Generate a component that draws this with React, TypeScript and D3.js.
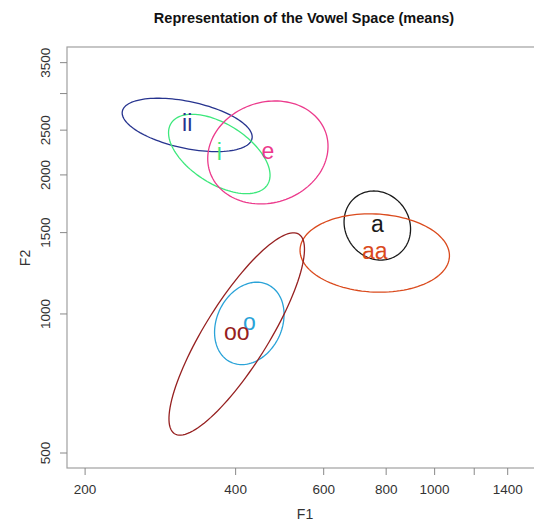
import React from 'react';
import * as d3 from 'd3';

// vowel means (Hz) and spread of the log10 formants
const vowels = ['ii', 'i', 'e', 'a', 'aa', 'o', 'oo'];
const meanF1 = [320, 371, 464, 768, 759, 426, 402];
const meanF2 = [2566, 2220, 2237, 1554, 1355, 954, 905];
const sdLogF1 = [0.13, 0.1015, 0.1203, 0.0665, 0.1494, 0.0695, 0.1355];
const sdLogF2 = [0.0578, 0.0859, 0.1115, 0.0747, 0.0848, 0.0892, 0.219];
const corrLog = [-0.449, -0.535, 0.119, -0.104, -0.068, 0.216, 0.838];
const colors = ['#27348f', '#3de87c', '#ec3a8c', '#1a1a1a', '#da4a1d', '#2aa3d8', '#962020'];

const xTicks = [200, 400, 600, 800, 1000, 1200, 1400];
const xTickLabels = ['200', '400', '600', '800', '1000', '', '1400'];
const yTicks = [500, 1000, 1500, 2000, 2500, 3000, 3500];
const yTickLabels = ['500', '1000', '1500', '2000', '2500', '', '3500'];

const W = 534;
const H = 523;
const font = '"Liberation Sans", Arial, Helvetica, sans-serif';

export default function App() {
  const x = d3.scaleLog().domain([184, 1632]).range([67, 541]);
  const y = d3.scaleLog().domain([464, 3784]).range([468, 47]);

  const line = d3
    .line<[number, number]>()
    .x(d => x(d[0]))
    .y(d => y(d[1]))
    .curve(d3.curveLinearClosed);

  const ellipse = (i: number) => {
    const d = Math.acos(corrLog[i]);
    const pts: [number, number][] = d3.range(120).map(k => {
      const t = (k / 120) * 2 * Math.PI;
      const lx = Math.log10(meanF1[i]) + sdLogF1[i] * Math.cos(t + d / 2);
      const ly = Math.log10(meanF2[i]) + sdLogF2[i] * Math.cos(t - d / 2);
      return [Math.pow(10, lx), Math.pow(10, ly)];
    });
    return line(pts) || '';
  };

  const [x0, x1] = x.range();
  const [yb, yt] = y.range();

  return (
    <div style={{ position: 'fixed', left: 0, top: 0 }}>
      <svg width={W} height={H} style={{ display: 'block', background: '#fff' }} fontFamily={font}>
        <text x={304} y={23} textAnchor="middle" fontSize={14.5} fontWeight="bold" fill="#111">
          Representation of the Vowel Space (means)
        </text>

        {/* plot box */}
        <rect x={x0} y={yt} width={x1 - x0} height={yb - yt} fill="none" stroke="#a0a0a0" strokeWidth={1.2} />

        {/* x axis */}
        {xTicks.map((v, i) => (
          <g key={'x' + v}>
            <line x1={x(v)} x2={x(v)} y1={yb} y2={yb + 7} stroke="#888" strokeWidth={1} />
            <text x={x(v)} y={494} textAnchor="middle" fontSize={13.5} fill="#333">
              {xTickLabels[i]}
            </text>
          </g>
        ))}
        <text x={305} y={519} textAnchor="middle" fontSize={14} fill="#333">
          F1
        </text>

        {/* y axis */}
        {yTicks.map((v, i) => (
          <g key={'y' + v}>
            <line x1={x0 - 7} x2={x0} y1={y(v)} y2={y(v)} stroke="#888" strokeWidth={1} />
            <text
              transform={`translate(50,${y(v)}) rotate(-90)`}
              textAnchor="middle"
              fontSize={13.5}
              fill="#333"
            >
              {yTickLabels[i]}
            </text>
          </g>
        ))}
        <text transform={`translate(30,258) rotate(-90)`} textAnchor="middle" fontSize={14} fill="#333">
          F2
        </text>

        {/* ellipses */}
        {vowels.map((v, i) => (
          <path key={'e' + v} d={ellipse(i)} fill="none" stroke={colors[i]} strokeWidth={1.3} />
        ))}

        {/* labels */}
        {vowels.map((v, i) => (
          <text
            key={'t' + v}
            x={x(meanF1[i])}
            y={y(meanF2[i])}
            dy="0.27em"
            textAnchor="middle"
            fontSize={23}
            fill={colors[i]}
          >
            {v}
          </text>
        ))}
      </svg>
    </div>
  );
}
